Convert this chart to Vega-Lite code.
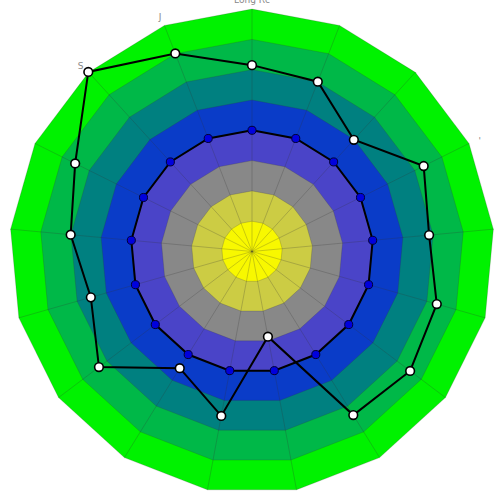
{
  "$schema": "https://vega.github.io/schema/vega-lite/v6.json",
  "width": 500,
  "height": 500,
  "autosize": {"type": "none"},
  "padding": 0,
  "background": "white",
  "config": {"view": {"stroke": null}},
  "datasets": {
    "spokes": [
      {"k": 0, "label": "Long Rc", "A": 6.15, "B": 4.0},
      {"k": 1, "label": "", "A": 6.01, "B": 4.0},
      {"k": 2, "label": "", "A": 4.99, "B": 4.0},
      {"k": 3, "label": "'", "A": 6.33, "B": 4.0},
      {"k": 4, "label": "", "A": 5.87, "B": 4.0},
      {"k": 5, "label": "", "A": 6.34, "B": 4.0},
      {"k": 6, "label": "", "A": 6.54, "B": 4.0},
      {"k": 7, "label": "", "A": 6.35, "B": 4.0},
      {"k": 8, "label": "", "A": 2.86, "B": 4.0},
      {"k": 9, "label": "", "A": 5.52, "B": 4.0},
      {"k": 10, "label": "", "A": 4.53, "B": 4.0},
      {"k": 11, "label": "", "A": 6.33, "B": 4.0},
      {"k": 12, "label": "", "A": 5.53, "B": 4.0},
      {"k": 13, "label": "", "A": 6.01, "B": 4.0},
      {"k": 14, "label": "", "A": 6.52, "B": 4.0},
      {"k": 15, "label": "S", "A": 8.02, "B": 4.0},
      {"k": 16, "label": "J", "A": 7.01, "B": 4.0}
    ],
    "bands": [
      {"level": 8, "k": [0,1,2,3,4,5,6,7,8,9,10,11,12,13,14,15,16]},
      {"level": 7, "k": [0,1,2,3,4,5,6,7,8,9,10,11,12,13,14,15,16]},
      {"level": 6, "k": [0,1,2,3,4,5,6,7,8,9,10,11,12,13,14,15,16]},
      {"level": 5, "k": [0,1,2,3,4,5,6,7,8,9,10,11,12,13,14,15,16]},
      {"level": 4, "k": [0,1,2,3,4,5,6,7,8,9,10,11,12,13,14,15,16]},
      {"level": 3, "k": [0,1,2,3,4,5,6,7,8,9,10,11,12,13,14,15,16]},
      {"level": 2, "k": [0,1,2,3,4,5,6,7,8,9,10,11,12,13,14,15,16]},
      {"level": 1, "k": [0,1,2,3,4,5,6,7,8,9,10,11,12,13,14,15,16]}
    ]
  },
  "layer": [
    {
      "data": {"name": "spokes"},
      "transform": [
        {"filter": "datum.label != ''"},
        {"calculate": "datum.k*2*PI/17", "as": "ang"},
        {"calculate": "8.4*sin(datum.ang)", "as": "lx"},
        {"calculate": "8.4*cos(datum.ang)", "as": "ly"}
      ],
      "mark": {"type": "text", "fontSize": 9, "font": "DejaVu Sans", "color": "#888888", "align": "center", "baseline": "middle", "dy": 3},
      "encoding": {
        "x": {"field": "lx", "type": "quantitative", "scale": {"domain": [-8.317, 8.185], "zero": false, "nice": false}, "axis": null},
        "y": {"field": "ly", "type": "quantitative", "scale": {"domain": [-8.201, 8.3], "zero": false, "nice": false}, "axis": null},
        "text": {"field": "label", "type": "nominal"}
      }
    },
    {
      "data": {"name": "bands"},
      "transform": [
        {"flatten": ["k"]},
        {"calculate": "datum.k*2*PI/17", "as": "ang"},
        {"calculate": "datum.level*sin(datum.ang)", "as": "bx"},
        {"calculate": "datum.level*cos(datum.ang)", "as": "by"}
      ],
      "mark": {"type": "line", "filled": true, "interpolate": "linear-closed", "stroke": "#333333", "strokeOpacity": 0.25, "strokeWidth": 0.8},
      "encoding": {
        "x": {"field": "bx", "type": "quantitative", "scale": {"domain": [-8.317, 8.185], "zero": false, "nice": false}, "axis": null},
        "y": {"field": "by", "type": "quantitative", "scale": {"domain": [-8.201, 8.3], "zero": false, "nice": false}, "axis": null},
        "detail": {"field": "level", "type": "ordinal"},
        "order": {"field": "k", "type": "quantitative"},
        "color": {"field": "level", "type": "ordinal", "legend": null,
          "scale": {"domain": [1,2,3,4,5,6,7,8], "range": ["#f8f800", "#cccc44", "#888888", "#4a44c8", "#0a3cc8", "#008080", "#00b848", "#00f200"]}}
      }
    },
    {
      "data": {"name": "spokes"},
      "transform": [
        {"calculate": "datum.k*2*PI/17", "as": "ang"},
        {"calculate": "8*sin(datum.ang)", "as": "sx"},
        {"calculate": "8*cos(datum.ang)", "as": "sy"},
        {"calculate": "0", "as": "z"}
      ],
      "mark": {"type": "rule", "color": "#333333", "opacity": 0.3, "strokeWidth": 0.8},
      "encoding": {
        "x": {"field": "z", "type": "quantitative", "scale": {"domain": [-8.317, 8.185], "zero": false, "nice": false}, "axis": null},
        "y": {"field": "z", "type": "quantitative", "scale": {"domain": [-8.201, 8.3], "zero": false, "nice": false}, "axis": null},
        "x2": {"field": "sx"},
        "y2": {"field": "sy"}
      }
    },
    {
      "data": {"name": "spokes"},
      "transform": [
        {"fold": ["A", "B"], "as": ["series", "value"]},
        {"calculate": "datum.k*2*PI/17", "as": "ang"},
        {"calculate": "datum.value*sin(datum.ang)", "as": "px"},
        {"calculate": "datum.value*cos(datum.ang)", "as": "py"}
      ],
      "mark": {"type": "line", "interpolate": "linear-closed", "color": "black", "strokeWidth": 2},
      "encoding": {
        "x": {"field": "px", "type": "quantitative", "scale": {"domain": [-8.317, 8.185], "zero": false, "nice": false}, "axis": null},
        "y": {"field": "py", "type": "quantitative", "scale": {"domain": [-8.201, 8.3], "zero": false, "nice": false}, "axis": null},
        "detail": {"field": "series", "type": "nominal"},
        "order": {"field": "k", "type": "quantitative"}
      }
    },
    {
      "data": {"name": "spokes"},
      "transform": [
        {"calculate": "datum.k*2*PI/17", "as": "ang"},
        {"calculate": "datum.B*sin(datum.ang)", "as": "px"},
        {"calculate": "datum.B*cos(datum.ang)", "as": "py"}
      ],
      "mark": {"type": "point", "filled": true, "fill": "#0000dd", "stroke": "#000033", "strokeWidth": 1, "size": 65, "opacity": 1},
      "encoding": {
        "x": {"field": "px", "type": "quantitative", "scale": {"domain": [-8.317, 8.185], "zero": false, "nice": false}, "axis": null},
        "y": {"field": "py", "type": "quantitative", "scale": {"domain": [-8.201, 8.3], "zero": false, "nice": false}, "axis": null}
      }
    },
    {
      "data": {"name": "spokes"},
      "transform": [
        {"calculate": "datum.k*2*PI/17", "as": "ang"},
        {"calculate": "datum.A*sin(datum.ang)", "as": "px"},
        {"calculate": "datum.A*cos(datum.ang)", "as": "py"}
      ],
      "mark": {"type": "point", "filled": true, "fill": "white", "stroke": "black", "strokeWidth": 1.6, "size": 75, "opacity": 1},
      "encoding": {
        "x": {"field": "px", "type": "quantitative", "scale": {"domain": [-8.317, 8.185], "zero": false, "nice": false}, "axis": null},
        "y": {"field": "py", "type": "quantitative", "scale": {"domain": [-8.201, 8.3], "zero": false, "nice": false}, "axis": null}
      }
    }
  ]
}
